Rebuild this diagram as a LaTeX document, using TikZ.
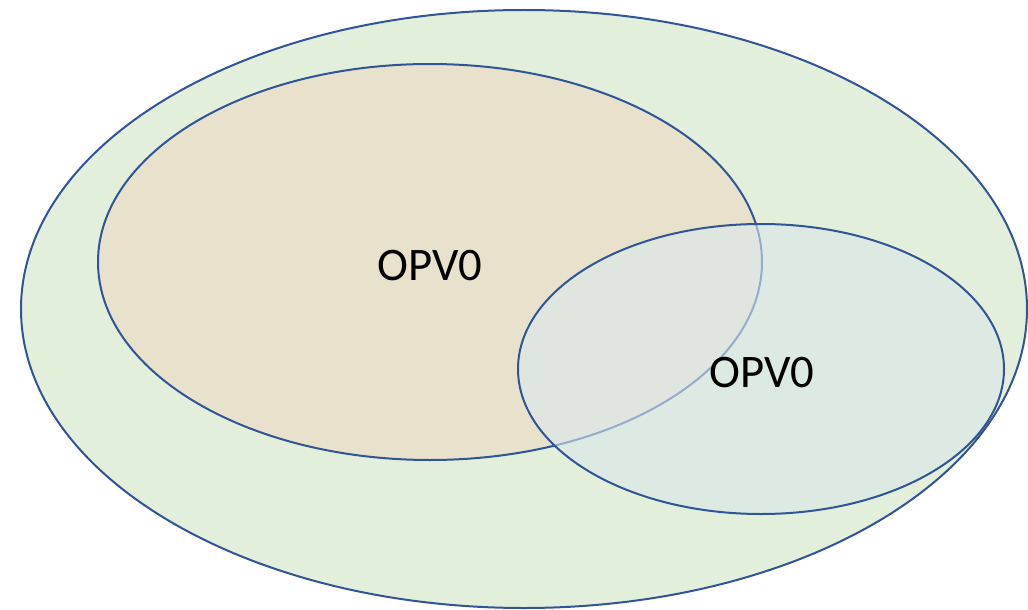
\documentclass[tikz,border=0pt]{standalone}
\usepackage{fontspec}
\setmainfont{Carlito}
\definecolor{outline}{HTML}{2F5597}
\definecolor{outerfill}{HTML}{E2EFDA}
\definecolor{leftfill}{HTML}{E8E2CC}
\definecolor{rightfill}{HTML}{DAE8EC}
\tikzset{
  venn/.style={draw=outline, line width=1.5pt},
  lbl/.style={font=\fontsize{35}{42}\selectfont, inner sep=0pt, anchor=center}
}
\begin{document}
\begin{tikzpicture}[x=0.75pt,y=-0.75pt]
\useasboundingbox (0,0) rectangle (1028,610);
\path[venn, fill=outerfill] (524,309) ellipse [x radius=503, y radius=299];
\path[venn, fill=leftfill] (430,262) ellipse [x radius=332, y radius=198];
\path[venn, fill=rightfill, fill opacity=0.6, draw opacity=1] (761,369) ellipse [x radius=243, y radius=145];
\node[lbl] (a) at (430,266) {OPV0};
\node[lbl] (b) at (762,373) {OPV0};
\end{tikzpicture}
\end{document}
